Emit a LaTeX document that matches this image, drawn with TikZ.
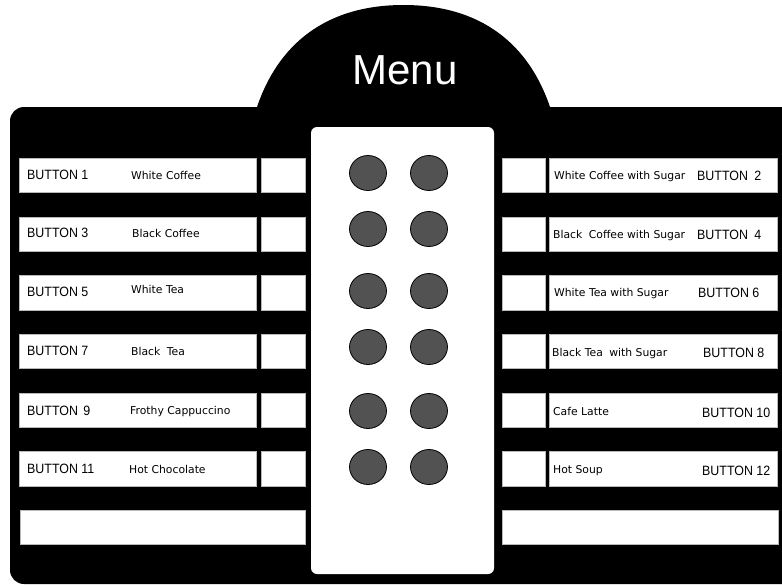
\documentclass[tikz,border=0pt]{standalone}
\usepackage{fontspec}
\setmainfont{Liberation Sans}
\newfontfamily\btnfont[FakeStretch=0.92]{Liberation Sans}
\newfontfamily\itemfont{DejaVu Sans}
\definecolor{knobgray}{RGB}{82,82,82}
\begin{document}
\begin{tikzpicture}[x=1pt,y=-1pt,
  panel/.style={fill=white, draw=gray!55, line width=0.6pt},
  knob/.style={fill=knobgray, draw=black, line width=0.8pt},
  btn/.style={anchor=base west, inner sep=0pt, font=\btnfont\fontsize{13.5}{15}\selectfont},
  item/.style={anchor=base west, inner sep=0pt, font=\itemfont\fontsize{10.8}{12}\selectfont}]
\useasboundingbox (0,0) rectangle (782,584);
\clip (0,0) rectangle (782,584);
% dome and body
\fill[black] (256,110) -- (257,107) .. controls (278,45) and (325,5) .. (403.5,5)
  .. controls (482,5) and (529,45) .. (550,107) -- (551,110) -- cycle;
\fill[black, rounded corners=14pt] (10,107) rectangle (800,584);
\node[anchor=base, inner sep=0pt, text=white, font=\fontsize{42}{46}\selectfont] (menu) at (405,84) {Menu};
% centre panel
\fill[white, rounded corners=6pt] (311,127) rectangle (494,574);
% rows
\foreach \t/\b in {158/192, 217/251, 275/310, 334/368, 393/427, 451/486}{
  \draw[panel] (19,\t) rectangle (256,\b);
  \draw[panel] (261,\t) rectangle (305,\b);
  \draw[panel] (502,\t) rectangle (545,\b);
  \draw[panel] (549,\t) rectangle (777,\b);
}
\draw[panel] (20,510) rectangle (305,544);
\draw[panel] (502,510) rectangle (778,544);
% knobs
\foreach \y [count=\i] in {173,229,291,347,411,467}{
  \draw[knob] (368,\y) ellipse [x radius=18.5, y radius=17.5];
  \draw[knob] (429,\y) ellipse [x radius=18.5, y radius=17.5];
}
% left labels
\node[btn] (b1) at (27,179) {BUTTON 1};
\node[btn] (b3) at (27,237) {BUTTON 3};
\node[btn] (b5) at (27,296) {BUTTON 5};
\node[btn] (b7) at (27,355) {BUTTON 7};
\node[btn] (b9) at (27,415) {BUTTON\hspace{2pt} 9};
\node[btn] (b11) at (27,473) {BUTTON 11};
\node[item] (i1) at (131,179) {White Coffee};
\node[item] (i3) at (132,237) {Black Coffee};
\node[item] (i5) at (131,293) {White Tea};
\node[item] (i7) at (131,355) {Black\hspace{3pt} Tea};
\node[item] (i9) at (130,414) {Frothy Cappuccino};
\node[item] (i11) at (129,473) {Hot Chocolate};
% right labels
\node[item] (i2) at (554,179) {White Coffee with Sugar};
\node[item] (i4) at (553,238) {Black\hspace{3pt} Coffee with Sugar};
\node[item] (i6) at (554,296) {White Tea with Sugar};
\node[item] (i8) at (552,356) {Black Tea\hspace{3pt} with Sugar};
\node[item] (i10) at (553,415) {Cafe Latte};
\node[item] (i12) at (553,473) {Hot Soup};
\node[btn] (b2) at (697,180) {BUTTON\hspace{3pt} 2};
\node[btn] (b4) at (697,239) {BUTTON\hspace{3pt} 4};
\node[btn] (b6) at (698,297) {BUTTON 6};
\node[btn] (b8) at (703,357) {BUTTON 8};
\node[btn] (b10) at (702,417) {BUTTON 10};
\node[btn] (b12) at (702,475) {BUTTON 12};
\end{tikzpicture}
\end{document}
